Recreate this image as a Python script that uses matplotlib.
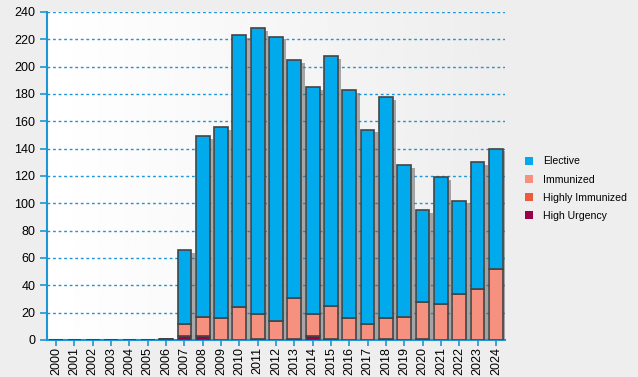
import numpy as np
import matplotlib
matplotlib.use("Agg")
import matplotlib.pyplot as plt
import matplotlib.patheffects as pe
from matplotlib.patches import Patch

plt.rcParams['font.family'] = ['Liberation Sans', 'DejaVu Sans']

years = [str(y) for y in range(2000, 2025)]
high_urgency = [0, 0, 0, 0, 0, 0, 1, 3, 3, 0, 0, 0, 0, 1, 3, 1, 0, 0, 0, 0, 1, 0, 0, 0, 0]
highly_immunized = [0, 0, 0, 0, 0, 0, 0, 0, 0, 0, 0, 1, 0, 0, 0, 0, 0, 0, 1, 0, 0, 0, 0, 0, 0]
immunized = [0, 0, 0, 0, 0, 0, 0, 9, 14, 16, 24, 18, 14, 30, 16, 24, 16, 12, 15, 17, 27, 26, 34, 37, 52]
elective = [0, 0, 0, 0, 0, 0, 0, 54, 132, 140, 199, 209, 208, 174, 166, 183, 167, 142, 162, 111, 67, 93, 68, 93, 88]

series = [
    ("High Urgency", high_urgency, "#9B0048"),
    ("Highly Immunized", highly_immunized, "#EF5A3E"),
    ("Immunized", immunized, "#F7917F"),
    ("Elective", elective, "#00AAEC"),
]

blue = "#1E96D6"
fig = plt.figure(figsize=(6.38, 3.77), dpi=100, facecolor="#EEEEEE")
ax = fig.add_axes([47 / 638, 37 / 377, 458 / 638, 328 / 377])
ax.set_facecolor("#EEEEEE")

# gradient background of the plot area
grad = np.linspace(1.0, 0.93, 256).reshape(1, -1)
ax.imshow(grad, extent=[0, 1, 0, 1], transform=ax.transAxes, cmap="gray",
          vmin=0, vmax=1, aspect="auto", zorder=0)

x = np.arange(len(years))
width = 0.75

totals = np.sum([s[1] for s in series], axis=0)
ax.bar(x, totals, width, color="none", edgecolor="none", zorder=2,
       path_effects=[pe.SimplePatchShadow(offset=(2.5, -2), shadow_rgbFace="#666666", alpha=0.55)])

bottom = np.zeros(len(years))
for name, vals, col in series:
    ax.bar(x, vals, width, bottom=bottom, color=col, edgecolor="#444444",
           linewidth=1.2, zorder=3)
    bottom += np.array(vals)

ax.set_xlim(-0.5, len(years) - 0.5)
ax.set_ylim(0, 240)
ax.set_yticks(range(0, 241, 20))
ax.set_xticks(x)
ax.set_xticklabels(years, rotation=90, fontsize=9)
ax.tick_params(axis="y", labelsize=9, color=blue, length=5, width=1.2)
ax.tick_params(axis="x", color=blue, length=4, width=1.2, pad=1)
ax.yaxis.grid(True, linestyle=(0, (2, 2)), color=blue, linewidth=1)
ax.set_axisbelow(True)
for side in ["top", "right"]:
    ax.spines[side].set_visible(False)
for side in ["left", "bottom"]:
    ax.spines[side].set_color(blue)
    ax.spines[side].set_linewidth(1.5)

handles = [Patch(facecolor=col, edgecolor="none", label=name) for name, vals, col in series[::-1]]
ax.legend(handles=handles, loc="upper left", bbox_to_anchor=(1.044, 0.56), frameon=False,
          borderpad=0, borderaxespad=0, fontsize=7.6, handlelength=0.75, handleheight=0.75,
          handletextpad=0.95, labelspacing=0.78)

fig.savefig("out.png", dpi=100, facecolor=fig.get_facecolor())
